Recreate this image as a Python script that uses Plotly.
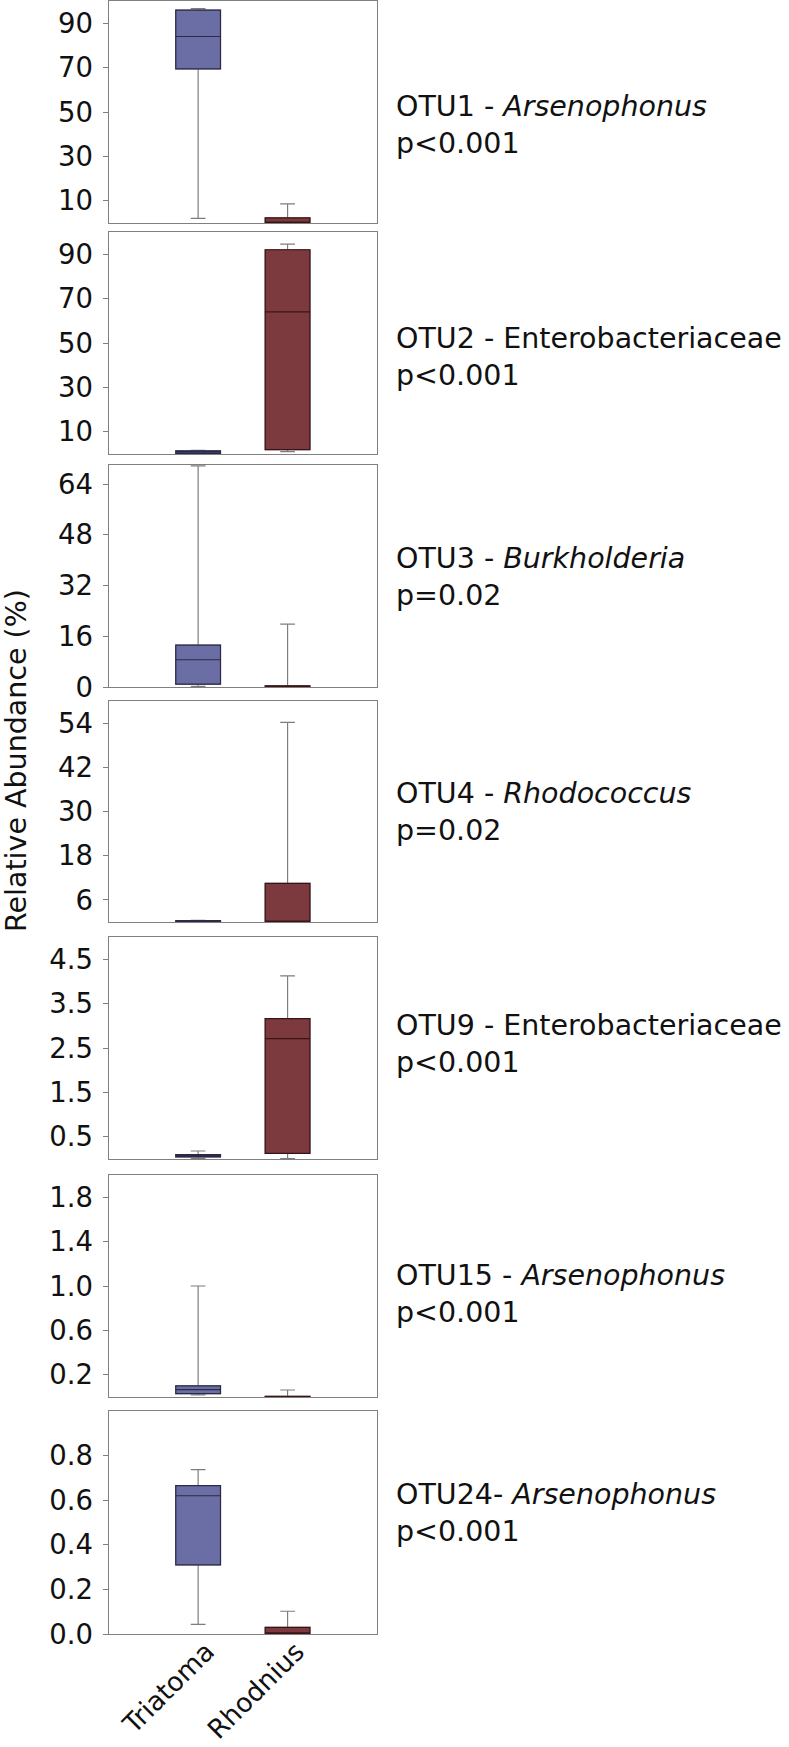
import plotly.graph_objects as go

# ---------------- data ----------------
categories = ["Triatoma", "Rhodnius"]
otu_names = ["OTU1 - <i>Arsenophonus</i>", "OTU2 - Enterobacteriaceae",
             "OTU3 - <i>Burkholderia</i>", "OTU4 - <i>Rhodococcus</i>",
             "OTU9 - Enterobacteriaceae", "OTU15 - <i>Arsenophonus</i>",
             "OTU24- <i>Arsenophonus</i>"]
p_values = ["p<0.001", "p<0.001", "p=0.02", "p=0.02", "p<0.001", "p<0.001", "p<0.001"]

tri_lower = [2.1, 0.0, 0.2, 0.0, 0.01, 0.018, 0.043]
tri_q1 = [69.4, 0.3, 0.9, 0.05, 0.045, 0.03, 0.31]
tri_median = [84.0, 1.0, 8.6, 0.2, 0.07, 0.066, 0.62]
tri_q3 = [95.9, 1.4, 13.2, 0.35, 0.10, 0.10, 0.665]
tri_upper = [96.6, 1.6, 69.7, 0.45, 0.18, 1.0, 0.737]

rho_lower = [0.0, 1.1, 0.0, 0.0, 0.01, 0.0, 0.0]
rho_q1 = [0.0, 2.0, 0.0, 0.0, 0.125, 0.0, 0.0]
rho_median = [0.3, 64.0, 0.2, 0.2, 2.71, 0.0, 0.005]
rho_q3 = [2.3, 92.0, 0.4, 10.5, 3.16, 0.005, 0.03]
rho_upper = [8.6, 94.5, 19.8, 54.2, 4.125, 0.063, 0.102]

y_max = [100, 100, 70, 60, 5, 2, 1.0]
tick_vals = [[10, 30, 50, 70, 90], [10, 30, 50, 70, 90], [0, 16, 32, 48, 64],
             [6, 18, 30, 42, 54], [0.5, 1.5, 2.5, 3.5, 4.5],
             [0.2, 0.6, 1.0, 1.4, 1.8], [0.0, 0.2, 0.4, 0.6, 0.8]]
tick_text = [["10", "30", "50", "70", "90"], ["10", "30", "50", "70", "90"],
             ["0", "16", "32", "48", "64"], ["6", "18", "30", "42", "54"],
             ["0.5", "1.5", "2.5", "3.5", "4.5"], ["0.2", "0.6", "1.0", "1.4", "1.8"],
             ["0.0", "0.2", "0.4", "0.6", "0.8"]]
y_title = "Relative Abundance (%)"

# ---------------- layout geometry (pixels) ----------------
W, H = 789, 1747
panel_px = [(1, 223), (232, 454), (465, 687), (701, 922), (937, 1159), (1175, 1397), (1411, 1634)]
label_center_px = [125, 357, 577, 812, 1044, 1294, 1513]
x_left, x_right = 108.7, 377.0

FONT = "DejaVu Sans"
FS_TICK = 27.5
FS_LABEL = 28.5
FS_CAT = 26.5
tri_fill, rho_fill = "#6b6ea5", "#7c3a3e"
tri_line, rho_line = "#2a2a48", "#3a1414"
whisk = "#7d7d7d"
border = "#808080"

fig = go.Figure()
n = len(panel_px)
for i in range(n):
    xa = "x" if i == 0 else f"x{i+1}"
    ya = "y" if i == 0 else f"y{i+1}"
    stats = [
        (categories[0], tri_lower[i], tri_q1[i], tri_median[i], tri_q3[i], tri_upper[i], tri_fill, tri_line),
        (categories[1], rho_lower[i], rho_q1[i], rho_median[i], rho_q3[i], rho_upper[i], rho_fill, rho_line),
    ]
    for cat, lo, q1, med, q3, up, fill, lc in stats:
        # whiskers (gray)
        fig.add_trace(go.Box(x=[cat], q1=[q1], median=[med], q3=[q3],
                             lowerfence=[lo], upperfence=[up],
                             width=0.5, whiskerwidth=0.33,
                             fillcolor=fill, line=dict(color=whisk, width=1.2),
                             boxpoints=False, showlegend=False, hoverinfo="skip",
                             xaxis=xa, yaxis=ya))
        # box body (dark outline)
        fig.add_trace(go.Box(x=[cat], q1=[q1], median=[med], q3=[q3],
                             lowerfence=[q1], upperfence=[q3],
                             width=0.5, whiskerwidth=0,
                             fillcolor=fill, line=dict(color=lc, width=1.2),
                             boxpoints=False, showlegend=False, hoverinfo="skip",
                             xaxis=xa, yaxis=ya))

    top, bot = panel_px[i]
    ydom = [1 - bot / H, 1 - top / H]
    fig.layout[f"xaxis{'' if i == 0 else i+1}"] = dict(
        domain=[x_left / W, x_right / W], anchor=ya,
        type="category", categoryorder="array", categoryarray=categories,
        range=[-1, 2], showline=True, mirror=True, linecolor=border, linewidth=1.2,
        ticks="", showgrid=False, zeroline=False, automargin=False,
        showticklabels=False,
    )
    fig.layout[f"yaxis{'' if i == 0 else i+1}"] = dict(
        domain=ydom, anchor=xa, range=[0, y_max[i]],
        tickmode="array", tickvals=tick_vals[i], ticktext=tick_text[i],
        ticks="outside", ticklen=5, tickcolor=border, tickwidth=1.2,
        ticklabelstandoff=4, automargin=False,
        showline=True, mirror=True, linecolor=border, linewidth=1.2,
        showgrid=False, zeroline=False,
        tickfont=dict(family=FONT, size=FS_TICK, color="#111"),
    )
    fig.add_annotation(x=394 / W, y=1 - label_center_px[i] / H, xref="paper", yref="paper",
                       xanchor="left", yanchor="middle", align="left", showarrow=False,
                       text=otu_names[i] + "<br>" + p_values[i],
                       font=dict(family=FONT, size=FS_LABEL, color="#111"))

# rotated category labels under the bottom panel, placed through its x axis
last_x = f"x{n}"
last_y = f"y{n}"
for cat in categories:
    fig.add_annotation(x=cat, y=0, xref=last_x, yref=last_y,
                       xanchor="right", yanchor="top", textangle=-45,
                       xshift=25, yshift=1, showarrow=False, text=cat,
                       font=dict(family=FONT, size=FS_CAT, color="#111"))

fig.add_annotation(x=16 / W, y=1 - 761 / H, xref="paper", yref="paper",
                   xanchor="center", yanchor="middle", textangle=-90, showarrow=False,
                   text=y_title, font=dict(family=FONT, size=FS_LABEL, color="#111"))

fig.update_layout(width=W, height=H,
                  margin=dict(l=0, r=0, t=0, b=0, pad=0, autoexpand=False),
                  template="none",
                  paper_bgcolor="white", plot_bgcolor="white", boxmode="overlay",
                  showlegend=False)
fig.write_html("out.html", config={"displayModeBar": False},
               post_script="document.body.style.margin='0px';document.body.style.overflow='hidden';")
